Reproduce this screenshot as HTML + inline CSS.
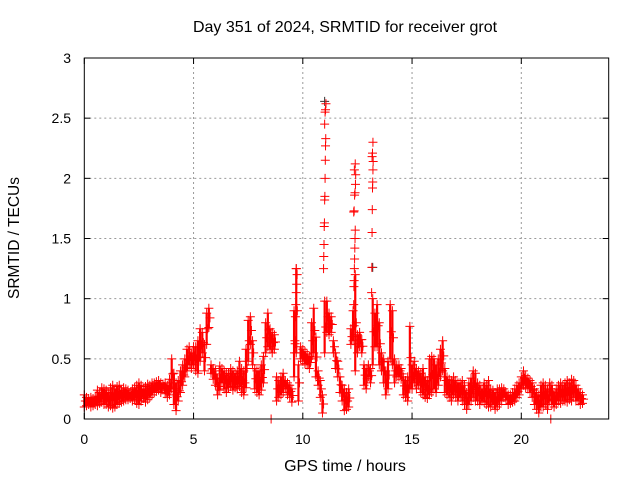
<!DOCTYPE html>
<html><head><meta charset="utf-8"><style>
body{margin:0;background:#fff}
svg{display:block;font-family:"Liberation Sans",sans-serif}
</style></head><body>
<svg id="chart" width="640" height="480" viewBox="0 0 640 480">
<text x="345" y="32" font-size="16" text-anchor="middle" fill="#000">Day 351 of 2024, SRMTID for receiver grot</text>
<text x="345" y="471" font-size="16" text-anchor="middle" fill="#000">GPS time / hours</text>
<text transform="translate(19,238) rotate(-90)" font-size="15.5" text-anchor="middle" fill="#000">SRMTID / TECUs</text>
<g id="grid"></g>
<g id="marks"></g>
<rect x="84.3" y="58" width="524.4" height="361" fill="none" stroke="#000" stroke-width="1"/>
<g id="axes"></g>
</svg>
<script>
const xTicks=[0,5,10,15,20];
const yTicks=[0,0.5,1,1.5,2,2.5,3];
const yTickLabels=["0","0.5","1","1.5","2","2.5","3"];
const startHour=0, stepHour=0.1;
const loVals=[.10,.11,.12,.10,.11,.12,.11,.13,.14,.12,
.12,.10,.11,.09,.10,.12,.13,.14,.15,.16,
.16,.17,.15,.16,.13,.12,.15,.17,.14,.16,
.18,.20,.22,.23,.24,.22,.25,.21,.18,.20,
.25,.12,.07,.15,.22,.28,.35,.40,.45,.42,
.45,.40,.38,.48,.55,.40,.62,.76,.38,.33,
.28,.20,.24,.30,.25,.22,.26,.27,.24,.26,
.25,.27,.22,.20,.26,.48,.62,.45,.25,.22,
.20,.24,.30,.55,.60,.58,.55,.58,.15,.18,
.20,.22,.25,.20,.18,.14,.35,.55,.15,.50,
.48,.46,.45,.42,.50,.55,.35,.28,.18,.05,
.55,.72,.70,.72,.55,.42,.35,.22,.15,.07,
.08,.10,.62,.65,.40,.55,.60,.55,.28,.25,
.35,.30,.45,.60,.60,.45,.40,.30,.20,.25,
.50,.45,.30,.35,.35,.33,.20,.18,.15,.25,
.25,.30,.25,.28,.22,.20,.18,.17,.20,.22,
.25,.22,.28,.35,.40,.22,.20,.18,.15,.20,
.18,.15,.18,.15,.12,.08,.12,.15,.18,.15,
.15,.12,.15,.14,.12,.10,.10,.12,.08,.10,
.12,.15,.18,.16,.12,.13,.14,.15,.18,.20,
.25,.28,.26,.25,.22,.18,.12,.08,.05,.10,
.10,.12,.08,.15,.12,.10,.12,.15,.13,.15,
.15,.14,.16,.15,.18,.15,.15,.12,.13];
const hiVals=[.20,.18,.17,.18,.17,.19,.24,.22,.26,.25,
.24,.22,.26,.28,.25,.27,.28,.24,.26,.25,
.24,.22,.25,.26,.28,.30,.28,.25,.27,.29,
.28,.30,.30,.31,.32,.30,.29,.30,.28,.33,
.50,.38,.30,.32,.40,.45,.50,.58,.60,.55,
.60,.60,.65,.75,.72,.62,.88,.92,.45,.42,
.40,.34,.44,.42,.40,.38,.38,.42,.40,.38,
.40,.48,.42,.40,.58,.82,.85,.65,.42,.40,
.40,.45,.52,.80,.88,.75,.72,.70,.35,.32,
.35,.38,.32,.30,.28,.25,.90,1.25,.45,.60,
.58,.56,.54,.52,.80,.92,.68,.40,.32,.20,
.98,.98,.88,.85,.65,.55,.48,.35,.28,.25,
.22,.25,.75,.90,1.2,.70,.72,.66,.45,.42,
.45,.42,1.0,.88,.95,.80,.55,.50,.40,.48,
.95,.90,.50,.45,.45,.42,.35,.32,.35,.77,
.45,.48,.42,.40,.38,.42,.35,.32,.50,.52,
.50,.45,.50,.58,.65,.42,.35,.33,.32,.35,
.32,.30,.30,.32,.28,.22,.30,.34,.40,.38,
.30,.28,.25,.30,.28,.32,.25,.24,.22,.25,
.25,.26,.25,.22,.20,.20,.22,.25,.28,.30,
.35,.40,.36,.34,.32,.30,.25,.22,.20,.28,
.30,.28,.25,.30,.28,.22,.25,.28,.30,.28,
.30,.32,.30,.33,.32,.28,.25,.22,.20];
const spikeHours=[9.62,9.64,9.66,9.68,9.7,9.72,9.74,9.7,
10.95,10.96,10.97,10.98,10.99,11.0,11.01,11.02,11.03,11.04,11.05,11.0,11.02,11.04,11.06,
12.33,12.34,12.35,12.36,12.37,12.38,12.39,12.4,12.33,12.35,12.37,12.39,12.41,12.42,12.36,12.4,
13.15,13.16,13.17,13.18,13.19,13.2,13.21,13.22,13.17,13.19,13.21,
8.55,21.35];
const spikeVals=[0.55,0.65,0.85,0.95,1.05,1.12,1.2,1.25,
1.25,1.35,1.45,1.6,1.63,1.82,1.85,2.0,2.15,2.27,2.33,2.45,2.55,2.57,2.62,
0.95,1.1,1.15,1.25,1.33,1.42,1.5,1.57,1.72,1.73,1.86,1.88,1.95,2.03,2.07,2.12,
1.05,1.26,1.55,1.74,1.92,1.97,2.07,2.14,2.18,2.21,2.3,
0,0];
const blackHours=[11.0,13.2];
const blackVals=[2.64,1.26];

const NS="http://www.w3.org/2000/svg";
const X0=84.3,X1=608.7,Y0=419,Y1=58;
function xs(h){return X0+(h-0)/(24-0)*(X1-X0);}
function ys(v){return Y0-(v-0)/(3-0)*(Y0-Y1);}
function mk(tag,attrs,parent){const e=document.createElementNS(NS,tag);for(const k in attrs)e.setAttribute(k,attrs[k]);parent.appendChild(e);return e;}
const grid=document.getElementById('grid'),axes=document.getElementById('axes'),marks=document.getElementById('marks');
xTicks.forEach((t,i)=>{
  const x=xs(t);
  if(i>0){const g=mk('line',{x1:x,x2:x,y1:Y0,y2:Y1,stroke:'#999','stroke-dasharray':'2,3','stroke-width':1},grid);
  
  }
  mk('line',{x1:x,x2:x,y1:Y0,y2:Y0-6,stroke:'#000'},axes);
  mk('line',{x1:x,x2:x,y1:Y1,y2:Y1+6,stroke:'#000'},axes);
  const l=mk('text',{x:x,y:444,'font-size':14,'text-anchor':'middle',fill:'#000'},axes);
  l.textContent=String(t);
  
  
});
yTicks.forEach((t,i)=>{
  const y=ys(t);
  if(i>0&&i<yTicks.length-1){const g=mk('line',{x1:X0,x2:X1,y1:y,y2:y,stroke:'#999','stroke-dasharray':'2,3','stroke-width':1},grid);
  
  }
  mk('line',{x1:X0,x2:X0+6,y1:y,y2:y,stroke:'#000'},axes);
  mk('line',{x1:X1,x2:X1-6,y1:y,y2:y,stroke:'#000'},axes);
  const l=mk('text',{x:71,y:y+5,'font-size':14,'text-anchor':'end',fill:'#000'},axes);
  l.textContent=yTickLabels[i];
  
  
});
function cross(h,v,color){
  const x=xs(h),y=ys(v);
  const p=mk('path',{d:`M${x-4.5},${y}H${x+4.5}M${x},${y-4.5}V${y+4.5}`,stroke:color,'stroke-width':1,fill:'none'},marks);
  
  
}
blackHours.forEach((h,i)=>cross(h,blackVals[i],'#333'));
loVals.forEach((lo,i)=>{
  const h=startHour+i*stepHour,hi=hiVals[i];
  const ln=mk('line',{x1:xs(h),x2:xs(h),y1:ys(lo),y2:ys(hi),stroke:'#f00','stroke-width':2.2},marks);
  
  
  cross(h,lo,'#f00');cross(h,hi,'#f00');
  cross(h+0.05,(lo+hi)/2,'#f00');
});
spikeHours.forEach((h,i)=>cross(h,spikeVals[i],'#f00'));
</script>
</body></html>
